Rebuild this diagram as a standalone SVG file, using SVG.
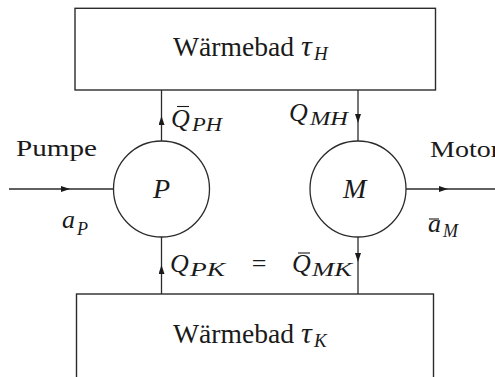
<svg xmlns="http://www.w3.org/2000/svg" width="495" height="377" viewBox="0 0 495 377">
<defs>
<style>
.ln{stroke:#2b2b2b;stroke-width:1.3;fill:none}
.box{stroke:#2b2b2b;stroke-width:1.4;fill:#fff}
.t{font-family:'Liberation Serif','DejaVu Serif',serif;fill:#1a1a1a}
.m{font-family:'Liberation Serif','DejaVu Serif',serif;font-style:italic;fill:#1a1a1a}
.bar{stroke:#1a1a1a;stroke-width:1.1}
</style>
<marker id="ah" viewBox="0 0 9 6" refX="9" refY="3" markerWidth="9" markerHeight="6" markerUnits="userSpaceOnUse" orient="auto">
<path d="M0,0 L9,3 L0,6 Z" fill="#1a1a1a"/>
</marker>
</defs>
<g id="connectors">
<line class="ln" x1="9" y1="189" x2="70" y2="189" marker-end="url(#ah)"/>
<line class="ln" x1="70" y1="189" x2="113.5" y2="189"/>
<line class="ln" x1="406" y1="189" x2="448" y2="189" marker-end="url(#ah)"/>
<line class="ln" x1="448" y1="189" x2="495" y2="189"/>
<line class="ln" x1="161.5" y1="141" x2="161.5" y2="116" marker-end="url(#ah)"/>
<line class="ln" x1="161.5" y1="116" x2="161.5" y2="90"/>
<line class="ln" x1="358" y1="90" x2="358" y2="123" marker-end="url(#ah)"/>
<line class="ln" x1="358" y1="123" x2="358" y2="141"/>
<line class="ln" x1="161.5" y1="294" x2="161.5" y2="265" marker-end="url(#ah)"/>
<line class="ln" x1="161.5" y1="265" x2="161.5" y2="237"/>
<line class="ln" x1="358" y1="237" x2="358" y2="262" marker-end="url(#ah)"/>
<line class="ln" x1="358" y1="262" x2="358" y2="294"/>
</g>
<g id="bath-hot">
<rect class="box" x="75" y="8.3" width="360.5" height="81.7"/>
<text class="t" x="173" y="56" font-size="28" textLength="121" lengthAdjust="spacingAndGlyphs">Wärmebad</text>
<text class="m" x="301" y="56" font-size="30">τ</text>
<text class="m" x="314" y="60" font-size="19">H</text>
</g>
<g id="bath-cold">
<rect class="box" x="76.5" y="294" width="357" height="100"/>
<text class="t" x="173" y="343" font-size="28" textLength="121" lengthAdjust="spacingAndGlyphs">Wärmebad</text>
<text class="m" x="301" y="343" font-size="30">τ</text>
<text class="m" x="314" y="347" font-size="19">K</text>
</g>
<g id="pump">
<circle class="ln" cx="161.5" cy="189" r="48"/>
<text class="m" x="153" y="198" font-size="28">P</text>
</g>
<g id="motor">
<circle class="ln" cx="358" cy="189" r="48"/>
<text class="m" x="343" y="198" font-size="28">M</text>
</g>
<g id="labels">
<text class="t" x="16" y="156" font-size="24" textLength="81" lengthAdjust="spacingAndGlyphs" fill="#333">Pumpe</text>
<text class="t" x="430" y="157" font-size="24" textLength="70" lengthAdjust="spacingAndGlyphs">Motor</text>
<text class="m" x="62" y="228" font-size="26">a</text>
<text class="m" x="77" y="235" font-size="18">P</text>
<line class="bar" x1="429" y1="219" x2="439" y2="219"/>
<text class="m" x="428" y="232" font-size="26">a</text>
<text class="m" x="443" y="237" font-size="18">M</text>
<text class="m" x="171" y="127" font-size="26">Q</text>
<line class="bar" x1="177" y1="106.5" x2="189" y2="106.5"/>
<text class="m" x="192" y="131" font-size="18" textLength="30" lengthAdjust="spacingAndGlyphs">PH</text>
<text class="m" x="289" y="121" font-size="26">Q</text>
<text class="m" x="310" y="125" font-size="18" textLength="38" lengthAdjust="spacingAndGlyphs">MH</text>
<text class="m" x="170" y="272" font-size="26">Q</text>
<text class="m" x="190" y="276" font-size="18" textLength="35" lengthAdjust="spacingAndGlyphs">PK</text>
<text class="t" x="259" y="272" font-size="26" text-anchor="middle">=</text>
<text class="m" x="292" y="272" font-size="26">Q</text>
<line class="bar" x1="298" y1="253" x2="310" y2="253"/>
<text class="m" x="312" y="276" font-size="18" textLength="40" lengthAdjust="spacingAndGlyphs">MK</text>
</g>
</svg>
